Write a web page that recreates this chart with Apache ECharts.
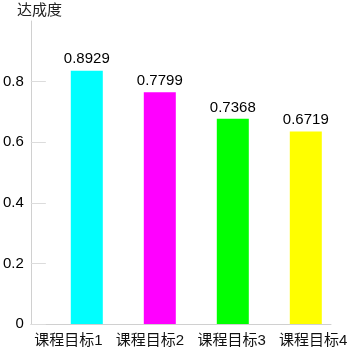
<!DOCTYPE html>
<html><head><meta charset="utf-8">
<script src="https://cdn.jsdelivr.net/npm/echarts@6/dist/echarts.min.js"></script>
<style>html,body{margin:0;padding:0;background:#fff}#c{width:354px;height:350px}</style>
</head><body><div id="c"></div>
<script>
const categories = ['课程目标1', '课程目标2', '课程目标3', '课程目标4'];
const barValues = [0.836, 0.765, 0.677, 0.635];
const labelValues = ['0.8929', '0.7799', '0.7368', '0.6719'];
const barColors = ['#00ffff', '#ff00ff', '#00ff00', '#ffff00'];
const yTicks = [0, 0.2, 0.4, 0.6, 0.8, 1];
const FONT = 'Arial, "Liberation Sans", "Noto Sans CJK SC", sans-serif';

const chart = echarts.init(document.getElementById('c'));
chart.setOption({
  animation: false,
  title: { text: '达成度', left: 12, top: -2, textStyle: { fontSize: 15, fontWeight: 'normal', color: '#222', fontFamily: FONT } },
  grid: [
    { left: 30, right: 23, top: 21, bottom: 26 },
    { left: 50.3, right: 11.7, top: 21, bottom: 26 },
    { left: 27.5, width: 334, top: 21, bottom: 26 }
  ],
  xAxis: [
    { gridIndex: 0, type: 'category', data: categories, axisLine: { lineStyle: { color: '#d0d0d0' } }, axisTick: { show: false }, axisLabel: { show: false } },
    { gridIndex: 1, type: 'category', data: categories, show: false },
    { gridIndex: 2, type: 'category', data: categories, axisLine: { show: false }, axisTick: { show: false },
      axisLabel: { interval: 0, hideOverlap: false, margin: 9, fontSize: 15, color: '#111', fontFamily: FONT } }
  ],
  yAxis: [
    { gridIndex: 0, type: 'value', min: yTicks[0], max: yTicks[yTicks.length - 1], interval: 0.2,
      axisLine: { show: true, lineStyle: { color: '#d0d0d0' } },
      axisTick: { show: true, inside: true, length: 15, lineStyle: { color: '#dcdcdc' } },
      splitLine: { show: false },
      axisLabel: { showMaxLabel: false, margin: 7, fontSize: 15, color: '#000', fontFamily: FONT,
        formatter: v => (v === 0 ? '0' : v.toFixed(1)) } },
    { gridIndex: 1, type: 'value', min: yTicks[0], max: yTicks[yTicks.length - 1], show: false },
    { gridIndex: 2, type: 'value', min: 0, max: 1, show: false }
  ],
  series: [{
    type: 'bar', xAxisIndex: 1, yAxisIndex: 1, barWidth: 32,
    data: barValues.map((v, i) => ({ value: v, itemStyle: { color: barColors[i] } })),
    label: { show: true, position: 'top', distance: 4, fontSize: 15, color: '#000', fontFamily: FONT,
      formatter: p => labelValues[p.dataIndex] }
  }]
});
</script></body></html>
